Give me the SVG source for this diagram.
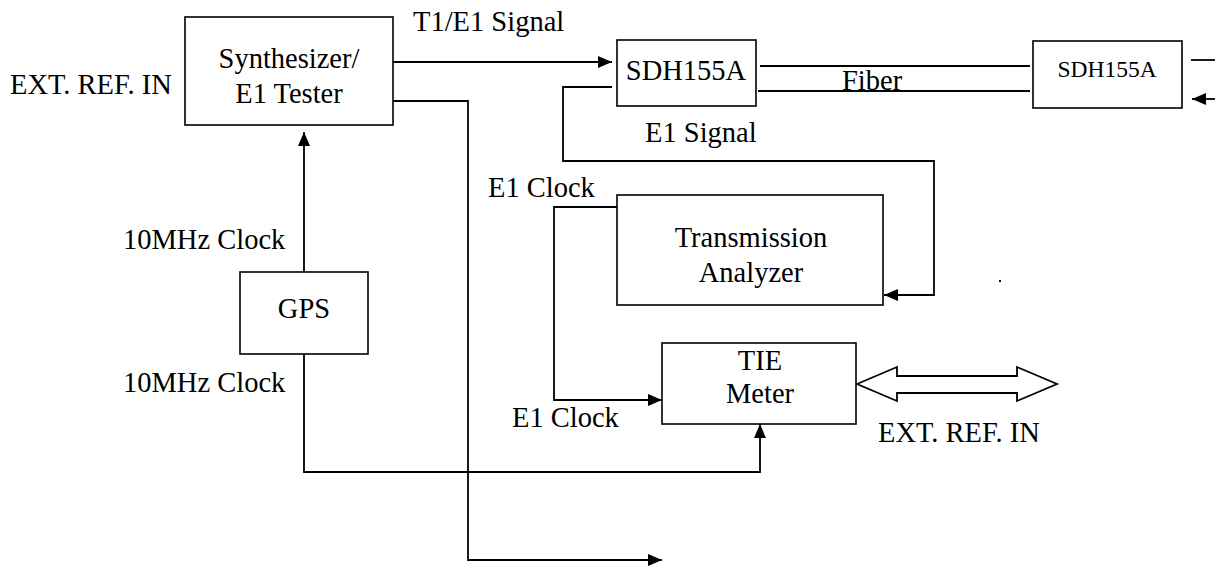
<svg xmlns="http://www.w3.org/2000/svg" width="1215" height="567" viewBox="0 0 1215 567" font-family="'Liberation Serif', serif">
<style>
.box{fill:#fff;stroke:#000;stroke-width:1.6}
.ln{fill:none;stroke:#000;stroke-width:1.8}
text{font-family:'Liberation Serif',serif;fill:#000}
.t{font-size:28.5px}
.s{font-size:23.5px}
.m{text-anchor:middle}
</style>
<defs>
<marker id="arr" viewBox="0 0 14 12" refX="14" refY="6" markerWidth="14" markerHeight="12" orient="auto" markerUnits="userSpaceOnUse">
<path d="M0,0 L14,6 L0,12 z" fill="#000"/>
</marker>
</defs>
<rect width="1215" height="567" fill="#fff"/>
<g id="connectors">
<line class="ln" x1="393" y1="62" x2="612" y2="62" marker-end="url(#arr)"/>
<polyline class="ln" points="393,101 468,101 468,560 662,560" marker-end="url(#arr)"/>
<line class="ln" x1="304" y1="272" x2="304" y2="132" marker-end="url(#arr)"/>
<polyline class="ln" points="304,354 304,472 760,472 760,424" marker-end="url(#arr)"/>
<polyline class="ln" points="612,87 563,87 563,161 934,161 934,295 884,295" marker-end="url(#arr)"/>
<polyline class="ln" points="617,207 554,207 554,400 662,400" marker-end="url(#arr)"/>
<line class="ln" x1="760" y1="66" x2="1030" y2="66"/>
<line class="ln" x1="758" y1="91" x2="1030" y2="91"/>
<line class="ln" x1="1191" y1="60" x2="1215" y2="60"/>
<line class="ln" x1="1215" y1="99" x2="1192" y2="99" marker-end="url(#arr)"/>
<polygon class="ln" points="857,384 897,367 897,376 1017,376 1017,367 1057,384 1017,401 1017,393 897,393 897,401"/>
</g>
<g id="synth">
<rect class="box" x="185" y="17" width="208" height="108"/>
<text class="t m" x="289" y="68">Synthesizer/</text>
<text class="t m" x="289" y="103">E1 Tester</text>
</g>
<g id="gps">
<rect class="box" x="240" y="272" width="128" height="82"/>
<text class="t m" x="304" y="318">GPS</text>
</g>
<g id="sdh1">
<rect class="box" x="617" y="40" width="139" height="66"/>
<text class="t m" x="686" y="80">SDH155A</text>
</g>
<g id="sdh2">
<rect class="box" x="1033" y="41" width="149" height="67"/>
<text class="s m" x="1107" y="77">SDH155A</text>
</g>
<g id="analyzer">
<rect class="box" x="617" y="195" width="266" height="110"/>
<text class="t m" x="751" y="247">Transmission</text>
<text class="t m" x="751" y="282">Analyzer</text>
</g>
<g id="tie">
<rect class="box" x="662" y="343" width="194" height="81"/>
<text class="t m" x="760" y="370">TIE</text>
<text class="t m" x="760" y="403">Meter</text>
</g>
<g id="labels">
<text class="t" x="10" y="94">EXT. REF. IN</text>
<text class="t" x="413" y="31">T1/E1 Signal</text>
<text class="t" x="842" y="90">Fiber</text>
<text class="t" x="645" y="142">E1 Signal</text>
<text class="t" x="488" y="197">E1 Clock</text>
<text class="t" x="512" y="427">E1 Clock</text>
<text class="t" x="123" y="249">10MHz Clock</text>
<text class="t" x="123" y="392">10MHz Clock</text>
<text class="t" x="878" y="442">EXT. REF. IN</text>
<rect x="999" y="280" width="2" height="2" fill="#000"/>
</g>
</svg>
